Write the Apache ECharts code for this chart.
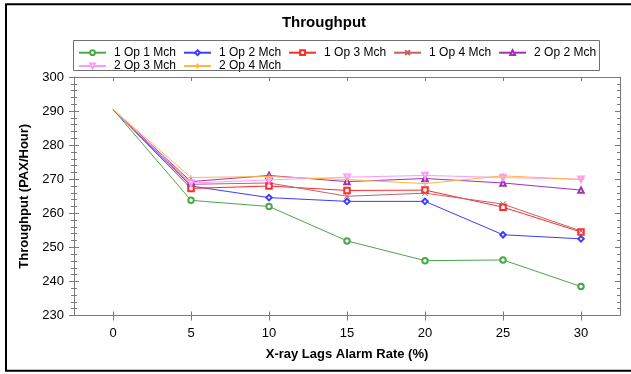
<!DOCTYPE html>
<html>
<head>
<meta charset="utf-8">
<script src="https://cdn.jsdelivr.net/npm/echarts@6/dist/echarts.min.js"></script>
<style>
html,body{margin:0;padding:0;background:#fff;}
#chart{width:631px;height:374px;}
</style>
</head>
<body>
<div id="chart"></div>
<script>
// ---- data ----
const xValues = [0, 5, 10, 15, 20, 25, 30];
const xTicks = [0, 5, 10, 15, 20, 25, 30];
const seriesNames = ['1 Op 1 Mch', '1 Op 2 Mch', '1 Op 3 Mch', '1 Op 4 Mch', '2 Op 2 Mch', '2 Op 3 Mch', '2 Op 4 Mch'];
const op1Mch1 = [290.5, 263.8, 262.0, 251.9, 246.1, 246.3, 238.5];
const op1Mch2 = [290.5, 268.0, 264.6, 263.5, 263.5, 253.7, 252.5];
const op1Mch3 = [290.5, 267.3, 268.0, 266.7, 266.8, 261.8, 254.5];
const op1Mch4 = [290.5, 268.5, 268.9, 265.0, 265.9, 262.7, 254.8];
const op2Mch2 = [290.5, 269.3, 271.1, 269.3, 270.2, 268.9, 266.8];
const op2Mch3 = [290.5, 268.9, 269.8, 270.6, 271.1, 270.5, 270.0];
const op2Mch4 = [290.5, 270.5, 270.8, 269.9, 268.7, 271.0, 269.9];
const allValues = [op1Mch1, op1Mch2, op1Mch3, op1Mch4, op2Mch2, op2Mch3, op2Mch4];

// ---- styles ----
const colors = ['#4aa84a', '#3c3cff', '#ff2a2a', '#c26262', '#a232b2', '#ff99ff', '#ffb640'];
const xPath = 'path://M0,0L10,10M10,0L0,10';
const plusPath = 'path://M5,0L5,10M0,5L10,5';
const symbols = [
  {symbol: 'emptyCircle', rotate: 0, stroke: false},
  {symbol: 'emptyDiamond', rotate: 0, stroke: false},
  {symbol: 'emptyRect', rotate: 0, stroke: false},
  {symbol: xPath, rotate: 0, stroke: true},
  {symbol: 'emptyTriangle', rotate: 0, stroke: false},
  {symbol: 'emptyTriangle', rotate: 180, stroke: false},
  {symbol: plusPath, rotate: 0, stroke: true}
];
const FONT = 'Liberation Sans, Arial, sans-serif';
const AX = '#7a7a7a';

const series = seriesNames.map((name, i) => ({
  name: name,
  type: 'line',
  xAxisIndex: 0,
  yAxisIndex: 0,
  // the x = 0 starting point is drawn without a marker, as in the reference
  data: xValues.map((x, j) => (x === 0 ? {value: [x, allValues[i][j]], symbol: 'none'} : [x, allValues[i][j]])),
  symbol: symbols[i].symbol,
  symbolRotate: symbols[i].rotate,
  symbolSize: 5.5,
  showAllSymbol: true,
  lineStyle: {color: colors[i], width: 1},
  itemStyle: symbols[i].stroke
    ? {color: colors[i], borderColor: colors[i], borderWidth: 1}
    : {color: colors[i], borderWidth: 1},
  emphasis: {disabled: true},
  animation: false,
  z: 3
}));

const chart = echarts.init(document.getElementById('chart'), null, {renderer: 'canvas'});
const legendCommon = {
  left: 78, itemWidth: 27, itemHeight: 6, itemGap: 7, padding: 0,
  textStyle: {fontSize: 12, color: '#000', fontFamily: FONT, padding: [0, 0, 0, 3]},
  selectedMode: false
};
const tickStyle = {color: AX, width: 1};

chart.setOption({
  backgroundColor: '#fff',
  animation: false,
  title: {
    text: 'Throughput', left: 324, top: 15, textAlign: 'center', padding: 0,
    textStyle: {fontSize: 15, fontWeight: 'bold', color: '#000', fontFamily: FONT}
  },
  legend: [
    Object.assign({}, legendCommon, {top: 46.7, data: seriesNames.slice(0, 5)}),
    Object.assign({}, legendCommon, {top: 60, data: seriesNames.slice(5)})
  ],
  graphic: [
    {type: 'rect', shape: {x: 6, y: 4.2, width: 640, height: 366.5}, style: {fill: 'none', stroke: '#000', lineWidth: 2}, silent: true, z: 100},
    {type: 'rect', shape: {x: 73.5, y: 40.5, width: 526, height: 30}, style: {fill: 'none', stroke: '#707070', lineWidth: 1}, silent: true, z: 100}
  ],
  grid: {left: 74, right: 11, top: 77, bottom: 58.5, containLabel: false},
  xAxis: [
    {
      type: 'value', position: 'bottom', min: -2.5, max: 32.5,
      name: 'X-ray Lags Alarm Rate (%)', nameLocation: 'middle', nameGap: 32,
      nameTextStyle: {fontSize: 13, fontWeight: 'bold', color: '#000', fontFamily: FONT},
      axisLine: {show: true, onZero: false, lineStyle: {color: AX, width: 1}},
      axisTick: {show: true, inside: false, length: 5, lineStyle: tickStyle, customValues: xTicks},
      axisLabel: {show: true, margin: 11, fontSize: 13, color: '#000', fontFamily: FONT, customValues: xTicks},
      splitLine: {show: false}
    },
    {
      type: 'value', position: 'bottom', min: -2.5, max: 32.5,
      axisLine: {show: false, onZero: false},
      axisTick: {show: true, inside: true, length: 4, lineStyle: tickStyle, customValues: xTicks},
      axisLabel: {show: false},
      splitLine: {show: false}
    },
    {
      type: 'value', position: 'top', min: -2.5, max: 32.5,
      axisLine: {show: true, onZero: false, lineStyle: {color: AX, width: 1}},
      axisTick: {show: true, inside: true, length: 4, lineStyle: tickStyle, customValues: xTicks},
      axisLabel: {show: false},
      splitLine: {show: false}
    }
  ],
  yAxis: [
    {
      type: 'value', position: 'left', min: 230, max: 300, interval: 10,
      name: 'Throughput (PAX/Hour)', nameLocation: 'middle', nameGap: 43,
      nameTextStyle: {fontSize: 13, fontWeight: 'bold', color: '#000', fontFamily: FONT},
      axisLine: {show: true, onZero: false, lineStyle: {color: AX, width: 1}},
      axisTick: {show: true, inside: false, length: 5, lineStyle: tickStyle},
      minorTick: {show: true, splitNumber: 5, length: 3, lineStyle: tickStyle},
      axisLabel: {show: true, margin: 10, fontSize: 13, color: '#000', fontFamily: FONT},
      splitLine: {show: false}, minorSplitLine: {show: false}
    },
    {
      type: 'value', position: 'left', min: 230, max: 300, interval: 10,
      axisLine: {show: false, onZero: false},
      axisTick: {show: true, inside: true, length: 5, lineStyle: tickStyle},
      minorTick: {show: true, splitNumber: 5, length: 3, lineStyle: tickStyle},
      axisLabel: {show: false},
      splitLine: {show: false}
    },
    {
      type: 'value', position: 'right', min: 230, max: 300, interval: 10,
      axisLine: {show: true, onZero: false, lineStyle: {color: AX, width: 1}},
      axisTick: {show: true, inside: true, length: 5, lineStyle: tickStyle},
      minorTick: {show: true, splitNumber: 5, length: 3, lineStyle: tickStyle},
      axisLabel: {show: false},
      splitLine: {show: false}
    }
  ],
  series: series
});
</script>
</body>
</html>
